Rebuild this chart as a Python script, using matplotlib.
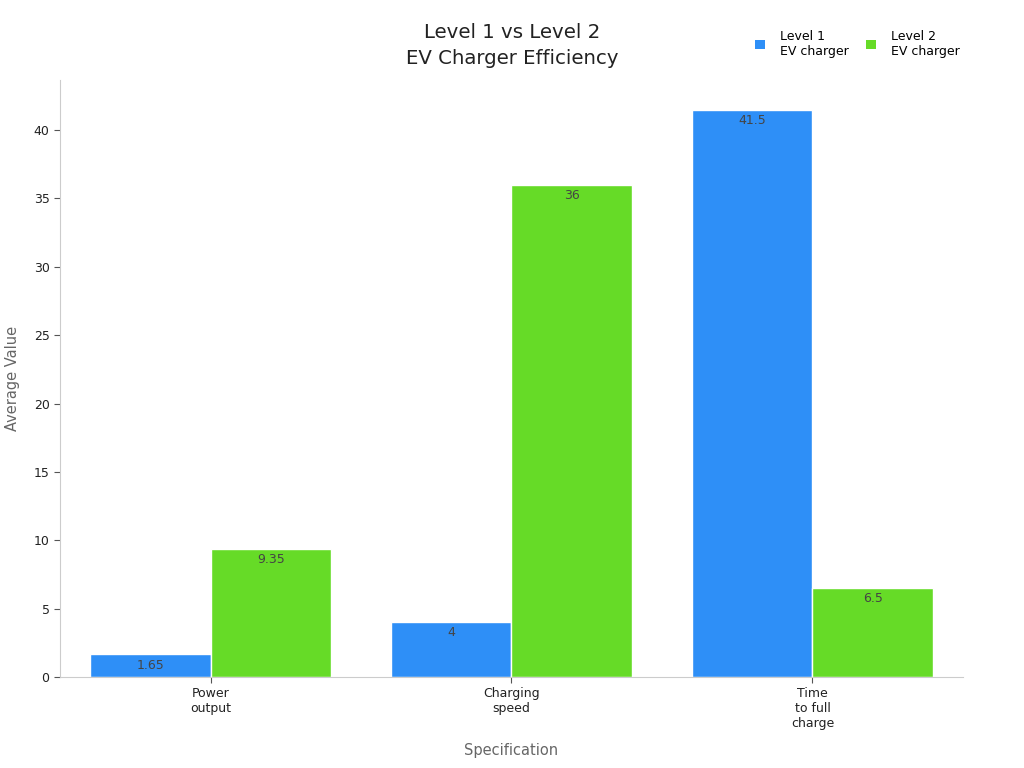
import numpy as np
import matplotlib.pyplot as plt
from matplotlib.patches import Patch

# Chart data
categories = ["Power\noutput", "Charging\nspeed", "Time\nto full\ncharge"]
series_names = ["Level 1\nEV charger", "Level 2\nEV charger"]
level1 = [1.65, 4, 41.5]
level2 = [9.35, 36, 6.5]
colors = ["#2E8FF7", "#66DB27"]


def plot_chart():
    fig = plt.figure(figsize=(10.24, 7.68), dpi=100)
    ax = fig.add_axes([0.0586, 0.1185, 0.8818, 0.7773])

    x = np.arange(len(categories))
    width = 0.4
    for i, (vals, name) in enumerate(zip([level1, level2], series_names)):
        pos = x - width / 2 + i * width
        bars = ax.bar(pos, vals, width, color=colors[i], edgecolor="white",
                      linewidth=1, label=name)
        for b, v in zip(bars, vals):
            ax.annotate(f"{v:g}", (b.get_x() + b.get_width() / 2, v),
                        xytext=(0, -3), textcoords="offset points",
                        ha="center", va="top", fontsize=9, color="#444444")

    ax.set_xlim(-0.5, 2.5)
    ax.set_ylim(0, 43.66)
    ax.set_xticks(x)
    ax.set_xticklabels(categories, fontsize=9, color="#222222")
    ax.set_yticks(np.arange(0, 41, 5))
    ax.tick_params(axis="y", labelsize=9, labelcolor="#222222", color="#555555", length=4)
    ax.tick_params(axis="x", color="#555555", length=4)
    for s in ["top", "right"]:
        ax.spines[s].set_visible(False)
    for s in ["left", "bottom"]:
        ax.spines[s].set_color("#cccccc")

    ax.set_xlabel("Specification", fontsize=10.5, color="#666666", labelpad=9)
    ax.set_ylabel("Average Value", fontsize=10.5, color="#666666", labelpad=10)
    fig.suptitle("Level 1 vs Level 2\nEV Charger Efficiency", x=0.5, y=0.97,
                 fontsize=14.2, color="#222222", linespacing=1.45)

    handles = [Patch(facecolor=c, edgecolor="none") for c in colors]
    fig.legend(handles, series_names, loc="upper right", bbox_to_anchor=(0.948, 0.976),
               ncol=2, frameon=False, fontsize=9, handlelength=0.8, handleheight=0.8,
               columnspacing=1.4, handletextpad=1.2)

    fig.savefig("out.png", dpi=100)


if __name__ == "__main__":
    plot_chart()
